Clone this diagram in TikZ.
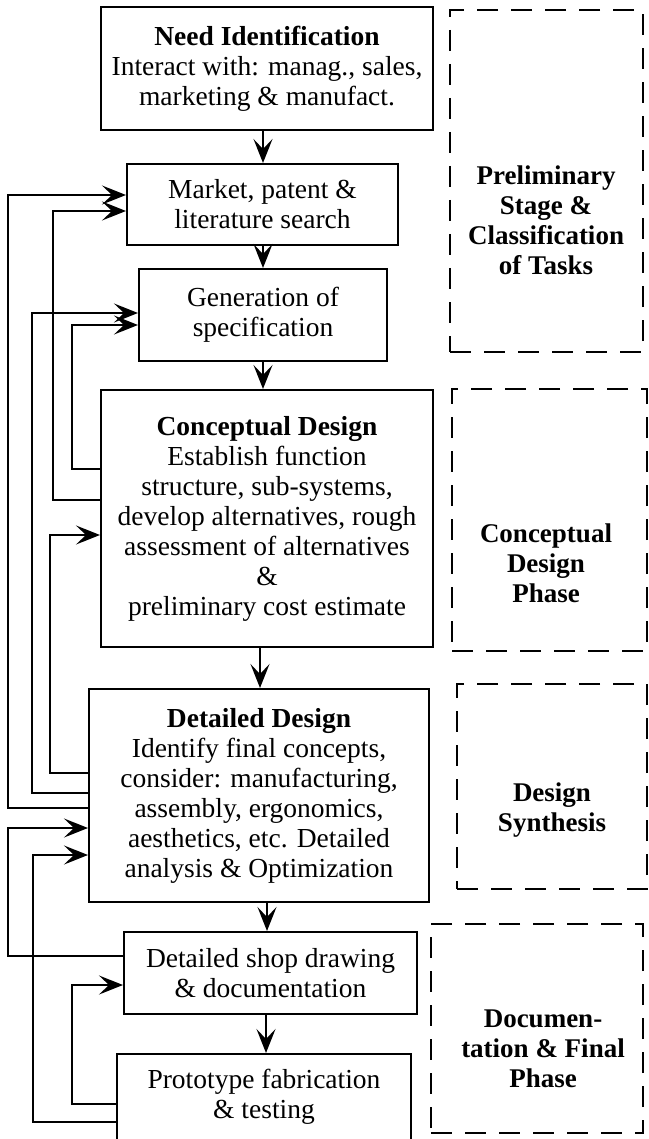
\documentclass[tikz,border=0pt]{standalone}
\usepackage{fontspec}
\setmainfont{Liberation Serif}
\usetikzlibrary{arrows.meta}
\begin{document}
\begin{tikzpicture}[x=1pt,y=-1pt,
  font=\fontsize{27.5}{30}\selectfont,
  box/.style={draw,line width=2pt,inner sep=0pt,align=center},
  phase/.style={draw,line width=2.6pt,dash pattern=on 21pt off 13pt,inner sep=0pt},
  plabel/.style={font=\fontsize{27}{30}\selectfont\bfseries,align=center,inner sep=0pt},
  flow/.style={line width=2.2pt,-{Stealth[length=24pt,width=19pt,inset=10pt]}},
  fb/.style={line width=2.2pt,-{Stealth[length=24pt,width=19pt,inset=10pt]}},
  ]
\useasboundingbox (0,0) rectangle (648,1139);

% process boxes
\node[box,minimum width=332pt,minimum height=123pt] (need) at (267,68.5)
  {\textbf{Need Identification}\\Interact with: manag., sales,\\marketing \& manufact.};
\node[box,minimum width=271pt,minimum height=81pt] (market) at (262.5,204.5)
  {Market, patent \&\\literature search};
\node[box,minimum width=248pt,minimum height=92pt] (gen) at (263,315)
  {Generation of\\specification};
\node[box,minimum width=332pt,minimum height=257pt] (concept) at (267,518.5)
  {\textbf{Conceptual Design}\\Establish function\\structure, sub-systems,\\develop alternatives, rough\\assessment of alternatives\\\&\\preliminary cost estimate};
\node[box,minimum width=340pt,minimum height=213pt] (detail) at (259,795.5)
  {\textbf{Detailed Design}\\Identify final concepts,\\consider: manufacturing,\\assembly, ergonomics,\\aesthetics, etc. Detailed\\analysis \& Optimization};
\node[box,minimum width=293pt,minimum height=82pt] (shop) at (270.5,973)
  {Detailed shop drawing\\\& documentation};
\node[box,minimum width=294pt,minimum height=86pt] (proto) at (264,1097)
  {Prototype fabrication\\\& testing};

% phase boxes
\node[phase,minimum width=193pt,minimum height=342pt] (ph1) at (546.5,181) {};
\node[plabel] (ph1t) at (546,220) {Preliminary\\Stage \&\\Classification\\of Tasks};
\node[phase,minimum width=195pt,minimum height=262pt] (ph2) at (549.5,520) {};
\node[plabel] (ph2t) at (546,563) {Conceptual\\Design\\Phase};
\node[phase,minimum width=190pt,minimum height=205pt] (ph3) at (552,786.5) {};
\node[plabel] (ph3t) at (552,810) {Design\\Synthesis};
\node[phase,minimum width=212pt,minimum height=209pt] (ph4) at (537,1028.5) {};
\node[plabel] (ph4t) at (543,1049) {Documen-\\tation \& Final\\Phase};

% main flow
\draw[flow] (need.south -| 263,0) -- (market.north -| 263,0);
\draw[flow] (market.south -| 263,0) -- (gen.north -| 263,0);
\draw[flow] (gen.south -| 263,0) -- (concept.north -| 263,0);
\draw[flow] (concept.south -| 260,0) -- (detail.north -| 260,0);
\draw[flow] (detail.south -| 267,0) -- (shop.north -| 267,0);
\draw[flow] (shop.south -| 266,0) -- (proto.north -| 266,0);

% feedback loops
\draw[fb] (detail.west |- 0,808) -| (8,195) -- (market.west |- 0,195);
\draw[fb] (concept.west |- 0,500) -| (53,211) -- (market.west |- 0,211);
\draw[fb] (detail.west |- 0,793) -| (32,313) -- (gen.west |- 0,313);
\draw[fb] (concept.west |- 0,469) -| (72,325) -- (gen.west |- 0,325);
\draw[fb] (detail.west |- 0,773) -| (50,535) -- (concept.west |- 0,535);
\draw[fb] (shop.west |- 0,956) -| (8,828) -- (detail.west |- 0,828);
\draw[fb] (proto.west |- 0,1122) -| (33,855) -- (detail.west |- 0,855);
\draw[fb] (proto.west |- 0,1104) -| (72,985) -- (shop.west |- 0,985);
\end{tikzpicture}
\end{document}
